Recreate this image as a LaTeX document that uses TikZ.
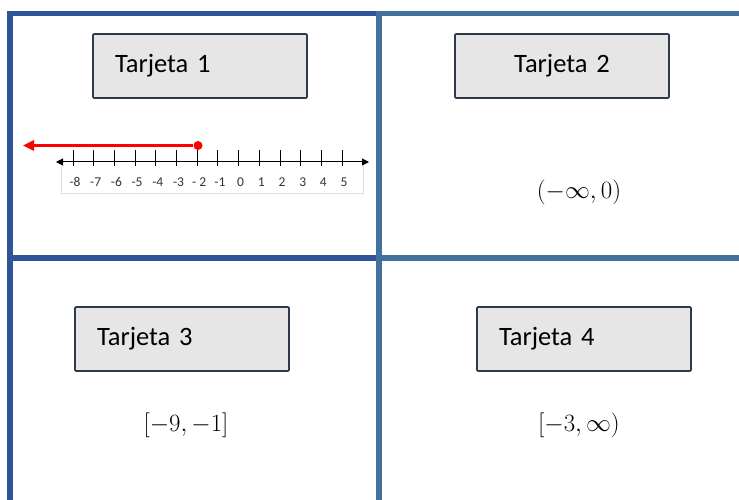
\documentclass[tikz,border=0pt]{standalone}
\usepackage[no-math]{fontspec}
\newfontfamily\cardfont{Carlito}
\usetikzlibrary{arrows.meta, positioning}
\definecolor{frameDark}{HTML}{2F5597}
\definecolor{frameLight}{HTML}{41719C}
\definecolor{cardEdge}{HTML}{2E3A4C}
\definecolor{cardFill}{HTML}{E6E6E6}

\begin{document}
\begin{tikzpicture}[x=1pt, y=-1pt,
  cardbox/.style={draw=cardEdge, line width=1.6pt, fill=cardFill, rounded corners=1pt, minimum height=64pt, text width=170pt, inner xsep=22pt, align=left, font=\cardfont\fontsize{26.5}{30}\selectfont},
  interval/.style={font=\fontsize{24.5}{28}\selectfont},
  frameline/.style={line width=5.5pt},
  ticklabel/.style={font=\cardfont\fontsize{13.5}{15}\selectfont, text=black!80},
  axisline/.style={line width=1pt},
]
\useasboundingbox (0,0) rectangle (739,500);

% Frame of the four cards
\draw[frameline, frameLight] (379,13.5) -- (739,13.5);
\draw[frameline, frameLight] (379,258) -- (739,258);
\draw[frameline, frameLight] (379,11) -- (379,500);
\draw[frameline, frameDark] (7.5,13.5) -- (376,13.5);
\draw[frameline, frameDark] (7.5,258) -- (376,258);
\draw[frameline, frameDark] (10,11) -- (10,500);

% Card titles
\node[cardbox] (card1) at (200,66) {Tarjeta 1};
\node[cardbox, align=center] (card2) at (562,66) {Tarjeta 2};
\node[cardbox] (card3) at (182,339) {Tarjeta 3};
\node[cardbox] (card4) at (584,339) {Tarjeta 4};

% Intervals
\node[interval] (int2) at (579,192) {$(-\infty,0)$};
\node[interval] (int3) at (186,425) {$[-9,-1]$};
\node[interval] (int4) at (579,425) {$[-3,\infty)$};

% Number line
\draw[gray!25, line width=0.6pt] (61,166) -- (61,193) -- (363,193) -- (363,166);
\coordinate (axL) at (56,162);
\coordinate (axR) at (369,162);
\draw[axisline, {Triangle[length=7pt,width=7pt]}-{Triangle[length=7pt,width=7pt]}] (axL) -- (axR);
\foreach \n [count=\i from 0] in {-8,-7,-6,-5,-4,-3,{-\ 2},-1,0,1,2,3,4,5} {
  \draw[axisline] (73+\i*20.7,150) -- (73+\i*20.7,166);
  \node[ticklabel] (lbl\i) at (75+\i*20.7,182) {\n};
}

% Ray x <= -2
\node[circle, fill=red, minimum size=9pt, inner sep=0pt] (dot) at (198,145.5) {};
\coordinate (rayEnd) at (23,145.5);
\draw[red, line width=2.5pt, -{Triangle[length=11pt,width=10pt]}] (dot) -- (rayEnd);

\end{tikzpicture}
\end{document}
